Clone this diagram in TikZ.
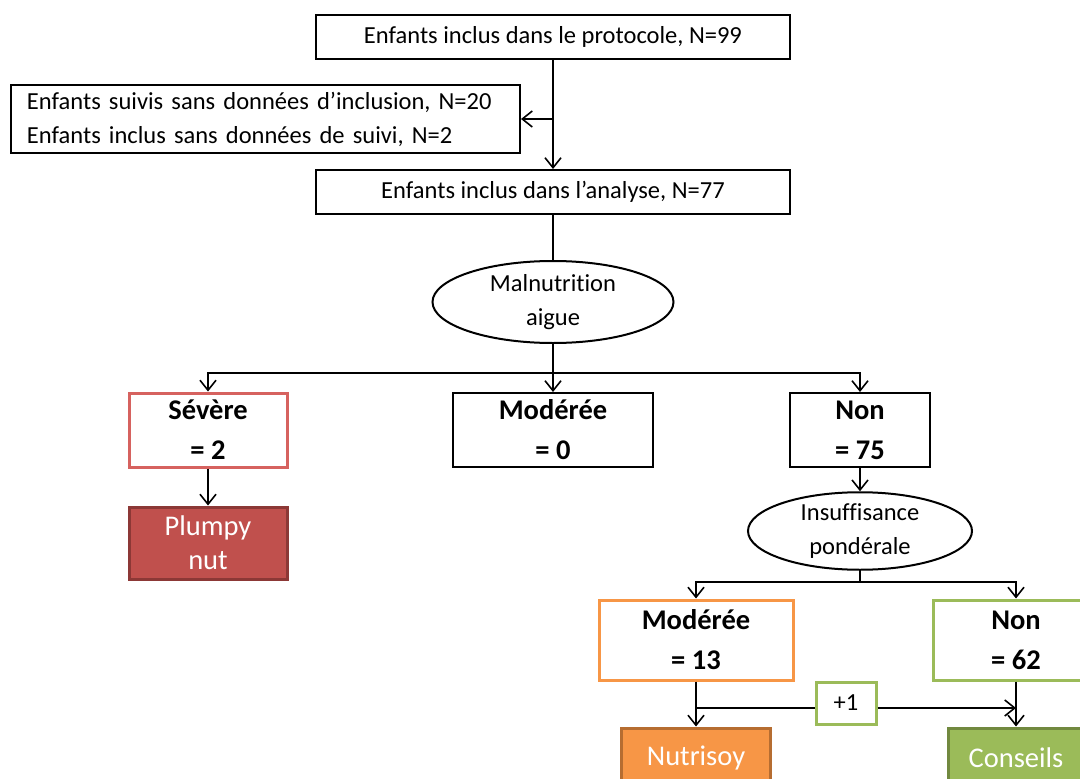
\documentclass[tikz,border=0pt]{standalone}
\usepackage{fontspec}
\setmainfont{Carlito}[Ligatures=NoCommon]
\usetikzlibrary{arrows.meta,shapes.geometric}
\definecolor{sevred}{RGB}{214,98,95}
\definecolor{plumfill}{RGB}{192,80,77}
\definecolor{plumline}{RGB}{140,56,54}
\definecolor{orng}{RGB}{247,150,70}
\definecolor{orngline}{RGB}{182,109,49}
\definecolor{grn}{RGB}{155,187,89}
\definecolor{grnline}{RGB}{113,137,63}
\newcommand{\regf}{\fontsize{24.5}{34}\selectfont}
\newcommand{\boldf}{\fontsize{28.5}{40}\selectfont\bfseries}
\newcommand{\whitef}{\fontsize{28.5}{34}\selectfont}
\begin{document}
\begin{tikzpicture}[x=1pt,y=-1pt,
  box/.style={draw,line width=2pt,rectangle,inner sep=0pt,align=center,fill=white},
  oval/.style={draw,line width=2pt,ellipse,inner sep=0pt,align=center,fill=white,font=\regf},
  regbox/.style={box,font=\regf},
  boldbox/.style={box,font=\boldf},
  treat/.style={draw,line width=3pt,rectangle,inner sep=0pt,align=center,text=white,font=\whitef},
  arr/.style={line width=1.6pt,-{Straight Barb[length=10pt,width=16pt,line width=1.6pt]}},
  ln/.style={line width=1.6pt}]
\useasboundingbox (0,0) rectangle (1080,779);
\fill[white] (0,0) rectangle (1080,779);

\node[regbox,minimum width=474pt,minimum height=44pt] (top) at (553,37) {Enfants inclus dans le protocole, N=99};
\node[box,font=\regf,align=left,text width=477pt,inner xsep=16pt,minimum height=68pt] (excl) at (265.5,119)
  {Enfants suivis sans données d’inclusion, N=20\\Enfants inclus sans données de suivi, N=2};
\node[regbox,minimum width=474pt,minimum height=44pt] (ana) at (553,192) {Enfants inclus dans l’analyse, N=77};
\node[oval,minimum width=241pt,minimum height=82pt] (mal) at (553,302) {Malnutrition\\aigue};

\node[boldbox,draw=sevred,line width=3pt,minimum width=158pt,minimum height=74pt] (sev) at (208,430) {Sévère\\= 2};
\node[boldbox,minimum width=200pt,minimum height=74pt] (mod) at (553,430) {Modérée\\= 0};
\node[boldbox,minimum width=140pt,minimum height=74pt] (non) at (860,430) {Non\\= 75};

\node[treat,fill=plumfill,draw=plumline,minimum width=158pt,minimum height=72pt] (plum) at (208,543) {Plumpy\\nut};
\node[oval,minimum width=224pt,minimum height=70pt] (ins) at (860,531) {Insuffisance\\pondérale};

\node[boldbox,draw=orng,line width=3pt,minimum width=194pt,minimum height=80pt] (mod2) at (696,640) {Modérée\\= 13};
\node[boldbox,draw=grn,line width=3pt,minimum width=166pt,minimum height=80pt] (non2) at (1016,640) {Non\\= 62};

\node[treat,fill=orng,draw=orngline,minimum width=149pt,minimum height=60pt] (nut) at (696,758) {Nutrisoy};
\node[treat,fill=grn,draw=grnline,minimum width=136pt,minimum height=60pt] (cons) at (1016,758) {Conseils};
\node[box,draw=grn,line width=3pt,font=\regf,minimum width=60pt,minimum height=42pt] (plus) at (846,703) {+1};

\coordinate (j1) at (553,119);
\coordinate (j2) at (553,373);
\coordinate (j3) at (860,582);
\coordinate (j4) at (696,708);
\coordinate (j5) at (1016,708);

\draw[arr] (top.south) -- (ana.north);
\draw[arr] (j1) -- (excl.east);
\draw[ln] (ana.south) -- (mal.north);
\draw[ln] (mal.south) -- (j2);
\draw[arr] (j2) -| (sev.north);
\draw[arr] (j2) -- (mod.north);
\draw[arr] (j2) -| (non.north);
\draw[arr] (sev.south) -- (plum.north);
\draw[arr] (non.south) -- (ins.north);
\draw[ln] (ins.south) -- (j3);
\draw[arr] (j3) -| (mod2.north);
\draw[arr] (j3) -| (non2.north);
\draw[arr] (mod2.south) -- (nut.north);
\draw[arr] (non2.south) -- (cons.north);
\draw[ln] (j4) -- (j4 -| plus.west);
\draw[arr] (plus.east |- j5) -- (j5);
\end{tikzpicture}
\end{document}
